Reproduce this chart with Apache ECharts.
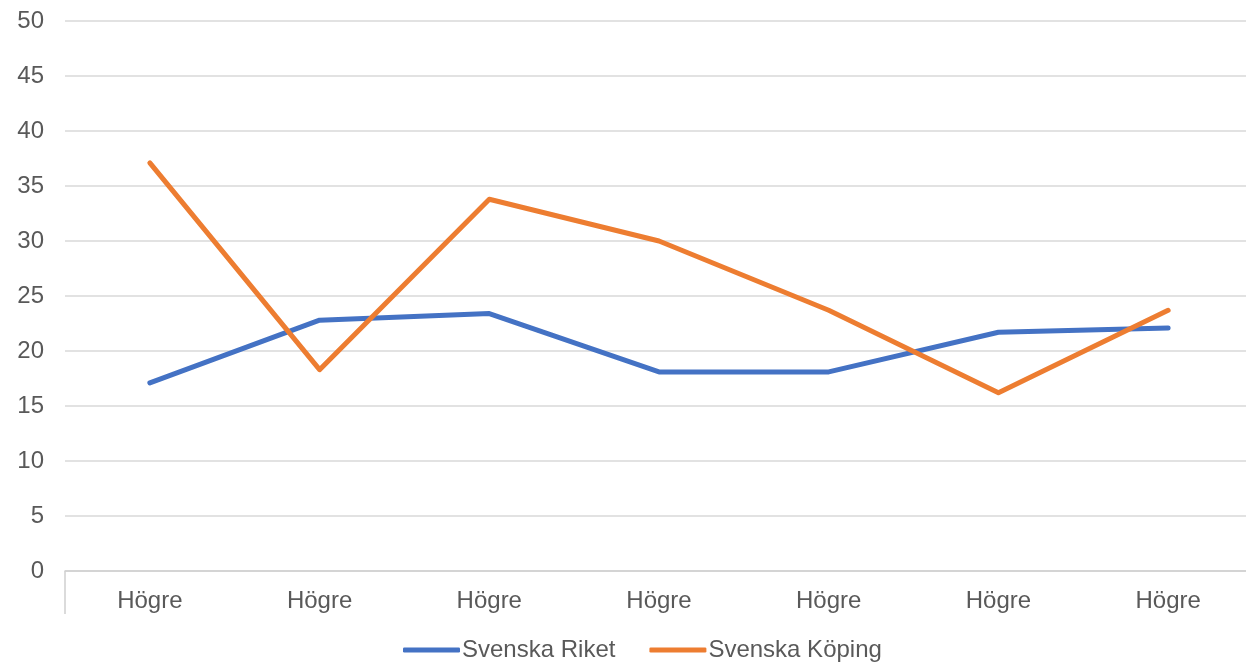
<!DOCTYPE html>
<html>
<head>
<meta charset="utf-8">
<script src="https://cdn.jsdelivr.net/npm/echarts@6/dist/echarts.min.js"></script>
<style>
html,body{margin:0;padding:0;background:#fff;overflow:hidden;}
#chart{width:1253px;height:664px;}
</style>
</head>
<body>
<div id="chart"></div>
<script>
const categories = ['Högre','Högre','Högre','Högre','Högre','Högre','Högre'];
const seriesNames = ['Svenska Riket','Svenska Köping'];
const riket = [17.1, 22.8, 23.4, 18.1, 18.1, 21.7, 22.1];
const koping = [37.1, 18.3, 33.8, 30.0, 23.7, 16.2, 23.7];
const yTicks = { min: 0, max: 50, interval: 5 };

const chart = echarts.init(document.getElementById('chart'), null, {renderer:'canvas'});
const font = '"Liberation Sans", Arial, sans-serif';
chart.setOption({
  animation: false,
  backgroundColor: '#ffffff',
  textStyle: { fontFamily: font },
  grid: { left: 65, right: 0, top: 21, bottom: 93, containLabel: false },
  legend: {
    data: seriesNames,
    bottom: -3,
    left: 398,
    icon: 'roundRect',
    itemWidth: 57,
    itemHeight: 5,
    itemGap: 34,
    textStyle: { fontFamily: font, fontSize: 24, color: '#595959', padding: [0,0,0,-3] }
  },
  xAxis: {
    type: 'category',
    data: categories,
    boundaryGap: true,
    axisLine: { show: true, lineStyle: { color: '#d0d0d0', width: 1.5 } },
    axisTick: { show: true, length: 43, lineStyle: { color: '#d0d0d0', width: 1.5 },
      interval: function (index) { return index === 0; } },
    axisLabel: { fontFamily: font, fontSize: 24, color: '#595959', margin: 18, interval: 0 },
    splitLine: { show: false }
  },
  yAxis: {
    type: 'value',
    min: yTicks.min, max: yTicks.max, interval: yTicks.interval,
    axisLine: { show: false },
    axisTick: { show: false },
    axisLabel: { fontFamily: font, fontSize: 24, color: '#595959', margin: 21 },
    splitLine: { show: true, lineStyle: { color: '#d9d9d9', width: 1.5 } }
  },
  series: [
    { name: seriesNames[0], type: 'line', data: riket, symbol: 'none', color: '#4472C4',
      lineStyle: { width: 5, color: '#4472C4', cap: 'round', join: 'round' } },
    { name: seriesNames[1], type: 'line', data: koping, symbol: 'none', color: '#ED7D31',
      lineStyle: { width: 5, color: '#ED7D31', cap: 'round', join: 'round' } }
  ]
});
</script>
</body>
</html>
